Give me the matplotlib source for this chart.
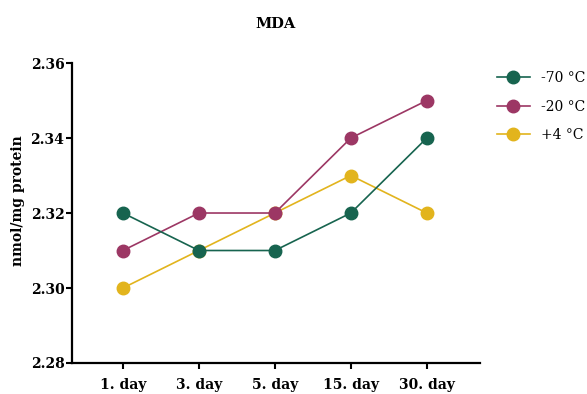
import matplotlib
matplotlib.use('Agg')
import matplotlib.pyplot as plt

days = ['1. day', '3. day', '5. day', '15. day', '30. day']
minus70 = [2.32, 2.31, 2.31, 2.32, 2.34]
minus20 = [2.31, 2.32, 2.32, 2.34, 2.35]
plus4 = [2.30, 2.31, 2.32, 2.33, 2.32]

series = [
    ('-70 °C', minus70, '#17644f', 3),
    ('-20 °C', minus20, '#9c3764', 2),
    ('+4 °C', plus4, '#e2b41d', 1),
]

plt.rcParams['font.family'] = ['DejaVu Serif']

fig = plt.figure(figsize=(5.87, 3.94), dpi=100)
ax = fig.add_axes([0.1227, 0.0787, 0.695, 0.7613])

x = list(range(len(days)))
for label, vals, col, z in series:
    ax.plot(x, vals, color=col, lw=1.2, marker='o', markersize=9,
            label=label, zorder=z)

ax.set_xlim(-0.67, 4.70)
ax.set_ylim(2.28, 2.36)
ax.set_yticks([2.28, 2.30, 2.32, 2.34, 2.36])
ax.set_yticklabels(['2.28', '2.30', '2.32', '2.34', '2.36'],
                   fontsize=10, fontweight='bold')
ax.set_xticks(x)
ax.set_xticklabels(days, fontsize=10, fontweight='bold')
ax.tick_params(width=1.5, length=4.5)
ax.tick_params(axis='y', pad=1)
ax.tick_params(axis='x', pad=6)

for s in ['top', 'right']:
    ax.spines[s].set_visible(False)
for s in ['left', 'bottom']:
    ax.spines[s].set_linewidth(1.6)

ax.set_ylabel('nmol/mg protein', fontsize=10, fontweight='bold')
ax.yaxis.set_label_coords(-0.115, 0.54)
fig.text(0.47, 0.94, 'MDA', ha='center', va='center', fontsize=10.5,
         fontweight='bold')

ax.legend(loc='upper left', bbox_to_anchor=(1.01, 1.015), frameon=False,
          fontsize=10, handlelength=2.4, labelspacing=1.05)

fig.savefig('out.png', dpi=100)
